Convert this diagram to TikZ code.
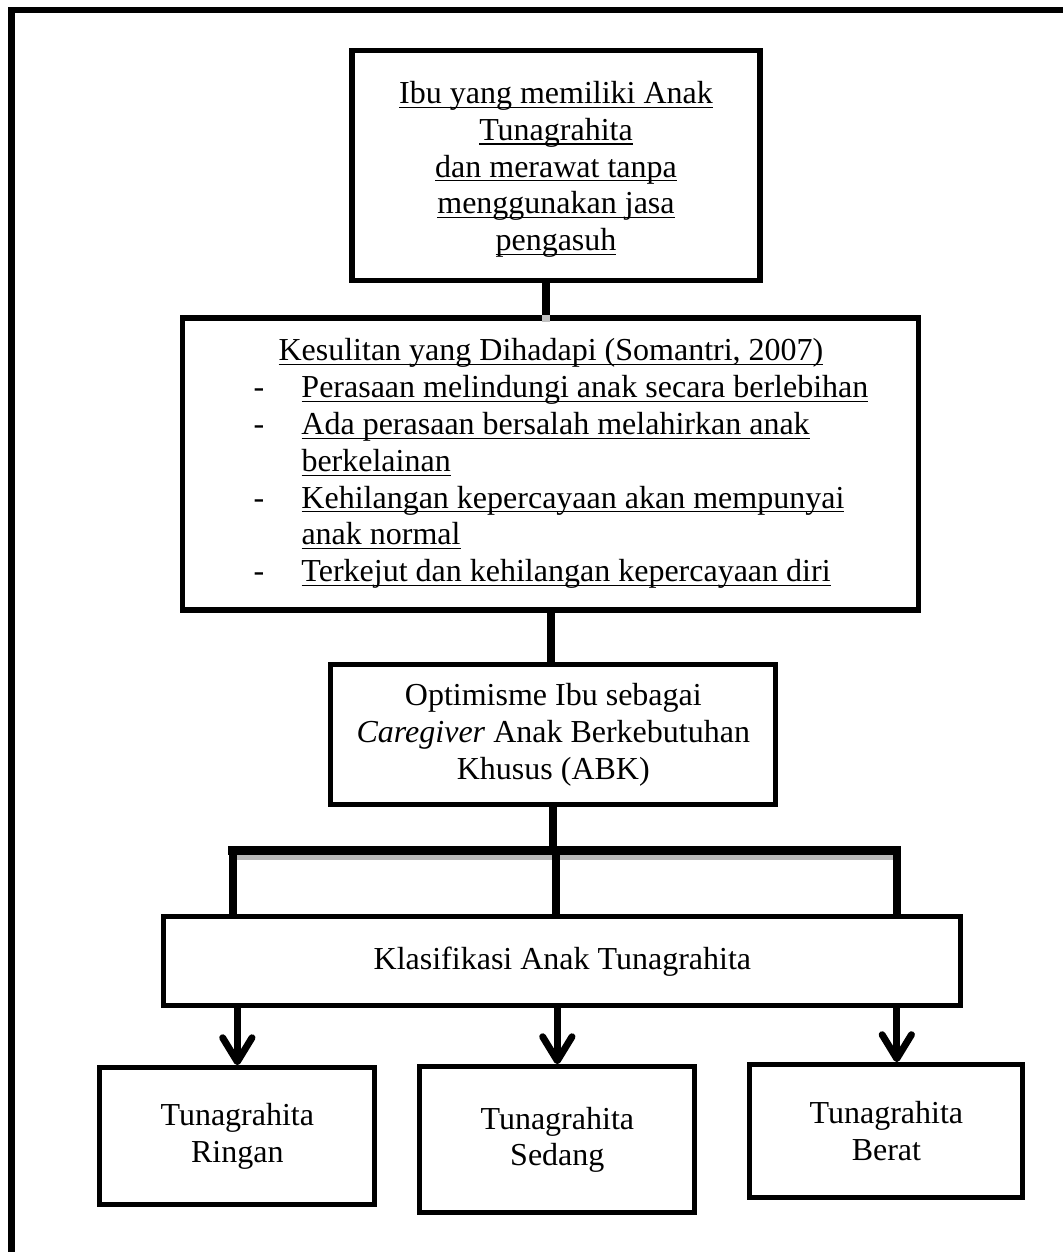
\documentclass[tikz,border=0pt]{standalone}
\usepackage{fontspec}
\setmainfont{Liberation Serif}
\usepackage{tikz}
\usetikzlibrary{positioning, arrows.meta}
\tikzset{
box/.style={draw, line width=1.9pt, inner sep=0pt,
  font=\fontsize{12pt}{13.8pt}\selectfont},
link/.style={line width=3pt},
shade link/.style={link, preaction={draw=gray!50, line width=3pt, transform canvas={yshift=-2.6pt}}},
bus/.style={line width=3.4pt, line cap=rect,
  preaction={draw=gray!55, line width=2.2pt, transform canvas={yshift=-2.4pt}}},
arrow/.style={line width=2.6pt, -{Straight Barb[length=9pt, width=11pt, round]}},
frame/.style={line width=2.4pt},
}
\newcommand{\uln}[1]{\underline{\smash{#1}}}

\begin{document}
\begin{tikzpicture}
\useasboundingbox (0,0) rectangle (398.6pt,-469.5pt);
\begin{scope}
  \clip (0,0) rectangle (398.6pt,-469.5pt);
  \draw[frame] (4.3pt,-3.75pt) rectangle (420pt,-500pt);
\end{scope}

% boxes
\node[box, align=center, minimum width=153pt, minimum height=86.25pt] (ibu) at (208.5pt,-61.9pt)
  {\rule{0pt}{11pt}\uln{Ibu yang memiliki Anak}\\ \uln{Tunagrahita}\\ \uln{dan merawat tanpa}\\ \uln{menggunakan jasa}\\ \uln{pengasuh}};
\node[box, below of=ibu, node distance=112.1pt, xshift=-1.9pt,
  minimum width=276pt, minimum height=109.5pt] (kesulitan)
  {\begin{tabular}{@{\hspace{7.5pt}}p{18pt}@{}l@{}}
   \multicolumn{2}{@{\hspace{7.5pt}}l@{}}{\hspace{9.4pt}\uln{Kesulitan yang Dihadapi (Somantri, 2007)}}\\
   - & \uln{Perasaan melindungi anak secara berlebihan}\\
   - & \uln{Ada perasaan bersalah melahirkan anak}\\
     & \uln{berkelainan}\\
   - & \uln{Kehilangan kepercayaan akan mempunyai}\\
     & \uln{anak normal}\\
   - & \uln{Terkejut dan kehilangan kepercayaan diri}
   \end{tabular}};
\node[box, align=center, below of=kesulitan, node distance=101.6pt, xshift=0.9pt,
  minimum width=166.9pt, minimum height=52.5pt] (optimis)
  {Optimisme Ibu sebagai\\ \textit{Caregiver} Anak Berkebutuhan\\ Khusus (ABK)};
\node[box, below of=optimis, node distance=84.9pt, xshift=3.4pt,
  minimum width=298.9pt, minimum height=33.4pt] (klasifikasi) {Klasifikasi Anak Tunagrahita};
\node[box, align=center, below of=klasifikasi, node distance=66.9pt, xshift=-1.9pt,
  minimum width=103.1pt, minimum height=54.75pt] (sedang) {Tunagrahita\\ Sedang};
\node[box, align=center, left of=sedang, node distance=120pt, yshift=1.3pt,
  minimum width=103.1pt, minimum height=51.4pt] (ringan) {Tunagrahita\\ Ringan};
\node[box, align=center, right of=sedang, node distance=123.4pt, yshift=3.2pt,
  minimum width=102.4pt, minimum height=49.9pt] (berat) {Tunagrahita\\ Berat};

% bus points
\coordinate[below=16.1pt of optimis.south] (bus);
\path (ringan.north |- bus) ++(-1.7pt,0) coordinate (busL);
\path (optimis.south |- bus) ++(0.9pt,0) coordinate (busM);
\path (berat.north |- bus) ++(3.9pt,0) coordinate (busR);
\path (ibu.south) ++(-3.75pt,0) coordinate (ibuOut);
\path (berat.north) ++(3.9pt,0) coordinate (beratIn);

% connectors
\draw[shade link] (ibuOut) -- (ibuOut |- kesulitan.north);
\draw[link] (kesulitan.south) -- (kesulitan.south |- optimis.north);
\draw[link] (optimis.south) -- (optimis.south |- bus);
\draw[bus] (busL) -- (busR);
\foreach \p in {busL, busM, busR}
  \draw[link] (\p) -- (\p |- klasifikasi.north);

% arrows
\draw[arrow] (klasifikasi.south -| ringan.north) -- (ringan.north);
\draw[arrow] (klasifikasi.south -| sedang.north) -- (sedang.north);
\draw[arrow] (klasifikasi.south -| beratIn) -- (beratIn);
\end{tikzpicture}
\end{document}
